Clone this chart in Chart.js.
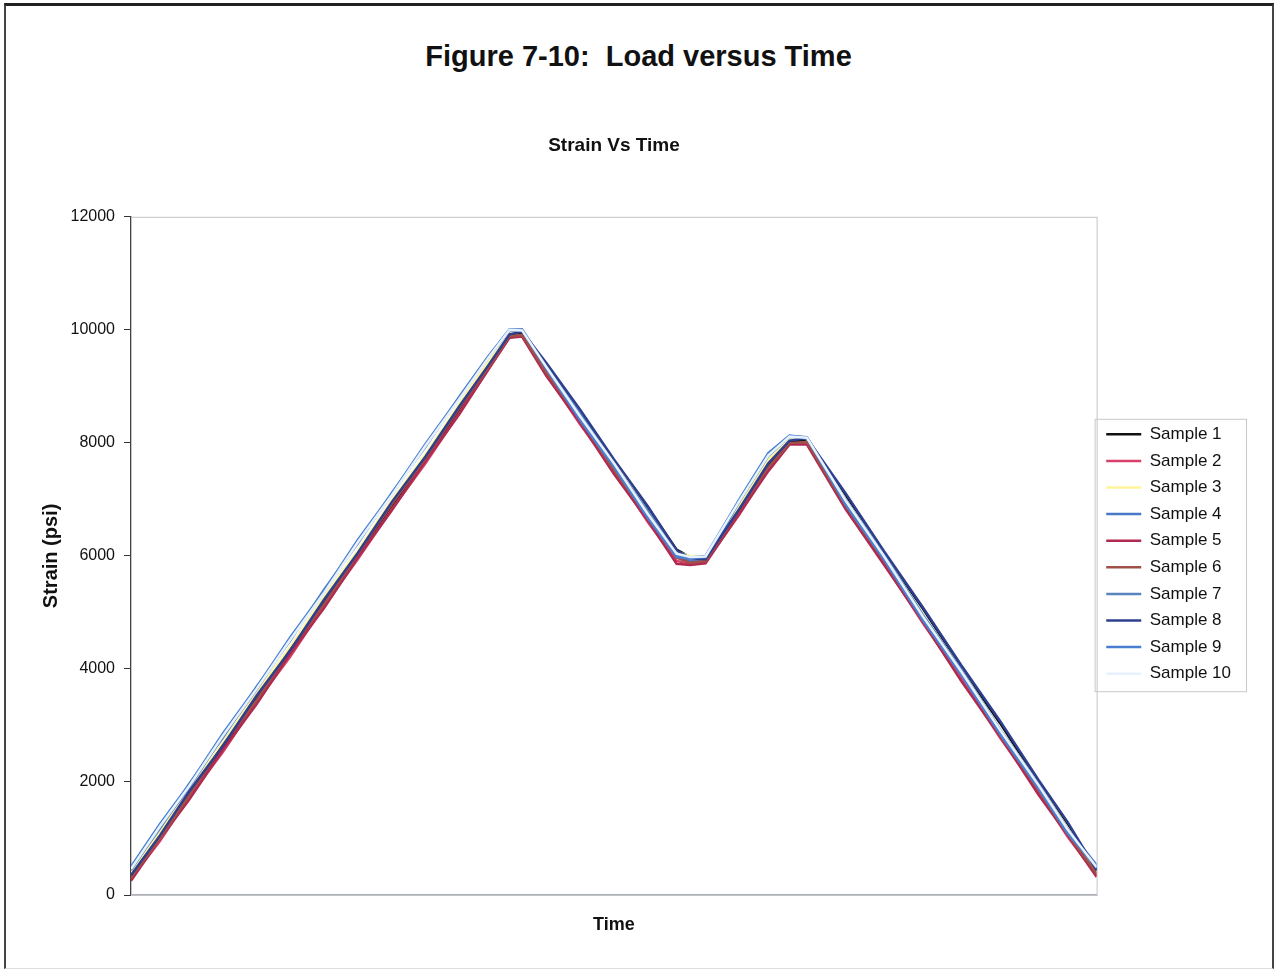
<!DOCTYPE html>
<html>
<head>
<meta charset="utf-8">
<title>Figure 7-10: Load versus Time</title>
<script src="https://cdn.jsdelivr.net/npm/chart.js@4.4.1/dist/chart.umd.min.js"></script>
<style>
  html, body { margin: 0; padding: 0; background: #fff; overflow: hidden; }
  body { width: 1277px; height: 974px; position: relative; font-family: "Liberation Sans", Arial, sans-serif; }
  .frame {
    position: absolute; left: 4px; top: 3px; width: 1266px; height: 962px;
    border-top: 3px solid #222; border-left: 2px solid #444; border-right: 2px solid #444; border-bottom: 1px solid #ddd;
  }
  .heading {
    position: absolute; left: 0; top: 38px; width: 1277px; text-align: center;
    font-weight: bold; font-size: 29px; line-height: 36px; color: #111;
  }
  .wrap { position: absolute; left: -21px; top: 0; width: 1270px; height: 974px; }
</style>
</head>
<body>
<div class="frame"></div>
<div class="heading">Figure 7-10:&nbsp; Load versus Time</div>
<div class="wrap"><canvas id="strainChart" width="1270" height="974"></canvas></div>

<script>
// Time axis has no labels in the original, so time is just a 0-1000 index
const times = [0, 30, 60, 95, 130, 165, 200, 235, 270, 305, 340, 370, 392, 405, 430, 465, 500, 535, 565, 579, 595, 630, 660, 682, 700, 740, 780, 820, 860, 900, 940, 970, 1000];

const sample1  = [330, 1025, 1779, 2586, 3464, 4281, 5188, 6005, 6882, 7699, 8587, 9341, 9910, 9940, 9397, 8570, 7692, 6865, 6110, 5980, 5970, 6790, 7600, 8030, 8050, 7080, 6050, 5070, 4030, 3040, 1990, 1260, 430];
const sample2  = [290, 955, 1729, 2526, 3414, 4221, 5118, 5945, 6822, 7639, 8527, 9291, 9870, 9890, 9217, 8330, 7512, 6605, 5910, 5860, 5890, 6730, 7540, 7990, 7990, 6860, 5870, 4810, 3830, 2780, 1820, 1030, 350];
const sample3  = [390, 1105, 1869, 2686, 3574, 4391, 5278, 6095, 6982, 7799, 8687, 9441, 9970, 9980, 9377, 8490, 7672, 6785, 6070, 6000, 5990, 6890, 7700, 8090, 8070, 7000, 6020, 4960, 3980, 2930, 1960, 1180, 460];
const sample4  = [440, 1205, 1899, 2806, 3634, 4531, 5358, 6255, 7082, 7959, 8787, 9511, 9990, 9990, 9297, 8420, 7592, 6695, 5990, 5910, 5920, 6960, 7770, 8110, 8080, 6930, 5940, 4880, 3900, 2870, 1890, 1110, 470];
const sample5  = [250, 995, 1679, 2566, 3374, 4271, 5078, 5975, 6802, 7679, 8507, 9301, 9860, 9880, 9187, 8360, 7452, 6635, 5860, 5840, 5870, 6750, 7500, 7970, 7970, 6830, 5840, 4840, 3780, 2810, 1770, 1060, 320];
const sample6  = [310, 1005, 1759, 2646, 3444, 4341, 5148, 6035, 6912, 7729, 8617, 9331, 9890, 9910, 9247, 8420, 7522, 6695, 5970, 5880, 5910, 6820, 7570, 8000, 8010, 6890, 5920, 4870, 3900, 2840, 1860, 1080, 380];
const sample7  = [470, 1175, 1959, 2776, 3684, 4501, 5408, 6225, 7112, 7929, 8817, 9531, 10000, 10010, 9357, 8530, 7632, 6805, 6030, 5970, 6000, 6980, 7800, 8120, 8100, 7000, 6020, 4960, 3980, 2930, 1960, 1170, 530];
const sample8  = [350, 1055, 1829, 2636, 3524, 4331, 5228, 6055, 6952, 7759, 8647, 9371, 9920, 9970, 9417, 8590, 7712, 6885, 6100, 5960, 5940, 6830, 7640, 8040, 8080, 7110, 6080, 5090, 4060, 3080, 2030, 1290, 440];
const sample9  = [500, 1255, 1949, 2856, 3674, 4561, 5378, 6285, 7102, 7979, 8807, 9521, 10010, 9990, 9317, 8400, 7582, 6675, 5980, 5960, 5980, 7000, 7820, 8130, 8090, 6910, 5930, 4860, 3890, 2850, 1880, 1090, 500];
const sample10 = [460, 1215, 1919, 2816, 3644, 4521, 5348, 6245, 7072, 7949, 8777, 9501, 10000, 9990, 9347, 8470, 7642, 6745, 6040, 5980, 5990, 6970, 7780, 8110, 8090, 6980, 5990, 4930, 3950, 2920, 1940, 1160, 490];

const seriesNames = ['Sample 1', 'Sample 2', 'Sample 3', 'Sample 4', 'Sample 5', 'Sample 6', 'Sample 7', 'Sample 8', 'Sample 9', 'Sample 10'];
const seriesValues = [sample1, sample2, sample3, sample4, sample5, sample6, sample7, sample8, sample9, sample10];
const seriesColors = ['#111111', '#d8406a', '#fff59a', '#4a78c8', '#b02a50', '#a05048', '#5a84c0', '#2f3f8f', '#4a7fd0', '#e6f2ff'];

const yTicks = [0, 2000, 4000, 6000, 8000, 10000, 12000];

const FONT = '"Liberation Sans", Arial, sans-serif';

// later samples sit on top, like the spreadsheet did
const datasets = seriesNames.map((name, i) => ({
  label: name,
  data: times.map((t, j) => ({ x: t, y: seriesValues[i][j] })),
  borderColor: seriesColors[i],
  backgroundColor: seriesColors[i],
  borderWidth: 2.5,
  pointRadius: 0,
  tension: 0,
  order: seriesNames.length - i
}));

// plot frame + legend box
const frames = {
  id: 'frames',
  beforeDatasetsDraw(chart) {
    const { ctx, chartArea: a } = chart;
    ctx.save();
    ctx.strokeStyle = '#c4c4c4';
    ctx.lineWidth = 1;
    ctx.strokeRect(a.left + 0.5, a.top + 0.5, a.right - a.left, a.bottom - a.top);
    ctx.restore();
  },
  afterDraw(chart) {
    const lg = chart.legend;
    if (!lg || !lg.legendHitBoxes.length) return;
    const boxes = lg.legendHitBoxes;
    const top = boxes[0].top - 7;
    const bottom = boxes[boxes.length - 1].top + boxes[boxes.length - 1].height + 9;
    const ctx = chart.ctx;
    ctx.save();
    ctx.strokeStyle = '#c8c8c8';
    ctx.lineWidth = 1;
    ctx.strokeRect(lg.left - 1.5, top + 0.5, lg.width + 7, bottom - top);
    ctx.restore();
  }
};

new Chart(document.getElementById('strainChart'), {
  type: 'line',
  data: { datasets },
  options: {
    responsive: false,
    animation: false,
    layout: { padding: { left: 8, right: 8, top: 134, bottom: 0 } },
    plugins: {
      title: {
        display: true,
        text: 'Strain Vs Time',
        color: '#111',
        font: { family: FONT, size: 19, weight: 'bold' },
        padding: { top: 0, bottom: 60 }
      },
      legend: {
        position: 'right',
        labels: {
          color: '#111',
          font: { family: FONT, size: 17 },
          usePointStyle: true,
          pointStyle: 'line',
          pointStyleWidth: 35,
          padding: 9.6,
          sort: (a, b) => a.datasetIndex - b.datasetIndex
        }
      },
      tooltip: { enabled: false }
    },
    scales: {
      x: {
        type: 'linear',
        min: 0,
        max: 1000,
        ticks: { display: false },
        grid: { drawOnChartArea: false, drawTicks: false },
        border: { color: '#a9b0bc', width: 1.5 },
        title: {
          display: true,
          text: 'Time',
          color: '#111',
          font: { family: FONT, size: 18, weight: 'bold' },
          padding: { top: 4, bottom: 38 }
        },
        afterFit: scale => { scale.height = 79; }
      },
      y: {
        min: 0,
        max: 12000,
        afterBuildTicks: scale => { scale.ticks = yTicks.map(v => ({ value: v })); },
        ticks: {
          color: '#111',
          padding: 9,
          font: { family: FONT, size: 16 },
          callback: v => String(v)
        },
        grid: { drawOnChartArea: false, tickLength: 7, color: '#333' },
        border: { color: '#444', width: 1.5 },
        title: {
          display: true,
          text: 'Strain (psi)',
          color: '#111',
          font: { family: FONT, size: 20, weight: 'bold' },
          padding: { top: 52, bottom: 4 }
        },
        afterFit: scale => { scale.width = 144; }
      }
    }
  },
  plugins: [frames]
});
</script>
</body>
</html>
